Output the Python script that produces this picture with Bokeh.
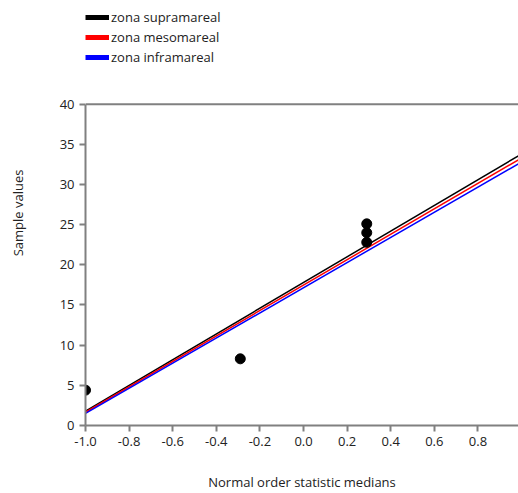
from bokeh.plotting import figure
from bokeh.models import Legend, LegendItem, Range1d, FixedTicker, Span
from bokeh.embed import file_html
from bokeh.resources import INLINE

# data
pts_x = [-1.0, -0.29, 0.29, 0.29, 0.29]
pts_y = [4.4, 8.3, 25.1, 24.0, 22.8]
line_x = [-1.0, 1.0]
supra_y = [1.8, 33.8]
meso_y = [1.65, 33.3]
infra_y = [1.5, 32.8]
labels = ["zona supramareal", "zona mesomareal", "zona inframareal"]
colors = ["black", "red", "blue"]
xticks = [-1.0, -0.8, -0.6, -0.4, -0.2, 0.0, 0.2, 0.4, 0.6, 0.8]
yticks = [0, 5, 10, 15, 20, 25, 30, 35, 40]
y_max = 40

FONT = "Open Sans"
# frame extends to top of page so legend (drawn in frame) is not clipped;
# plot area proper is 0..40
p = figure(width=518, height=493, output_backend="svg", toolbar_location=None,
           x_range=Range1d(-1.0, 0.986), y_range=Range1d(0, 52.9))
p.min_border_left = 85
p.min_border_right = 0
p.min_border_top = 0
p.min_border_bottom = 63
p.grid.visible = False
p.outline_line_color = None
p.background_fill_color = "white"
p.border_fill_color = "white"

p.add_layout(Span(location=y_max, dimension="width", line_color="#808080", line_width=2))

rs = []
for ys, c in zip([supra_y, meso_y, infra_y], colors):
    rs.append(p.line(line_x, ys, line_color=c, line_width=1.5))
p.scatter(pts_x, pts_y, size=10, color="black")

# thick legend swatches (no visible data)
nan = float("nan")
leg_rs = [p.line([nan, nan], [nan, nan], line_color=c, line_width=5) for c in colors]

for ax in (p.xaxis[0], p.yaxis[0]):
    ax.axis_line_color = "#808080"
    ax.axis_line_width = 2
    ax.major_tick_line_color = "#808080"
    ax.major_tick_line_width = 2
    ax.major_tick_out = 6
    ax.major_tick_in = 0
    ax.minor_tick_line_color = None
    ax.major_label_text_font = FONT
    ax.major_label_text_font_size = "13px"
    ax.major_label_text_color = "#222222"
    ax.axis_label_text_font = FONT
    ax.axis_label_text_font_size = "13px"
    ax.axis_label_text_font_style = "normal"
    ax.axis_label_text_color = "#222222"

p.yaxis.bounds = (0, y_max)
p.xaxis.ticker = FixedTicker(ticks=xticks)
p.xaxis.major_label_overrides = {t: f"{t:.1f}" for t in xticks}
p.yaxis.ticker = FixedTicker(ticks=yticks)
p.xaxis.axis_label = "Normal order statistic medians"
p.yaxis.axis_label = "Sample values"
p.xaxis.axis_label_standoff = 24
p.yaxis.axis_label_standoff = 30

legend = Legend(items=[LegendItem(label=l, renderers=[r]) for l, r in zip(labels, leg_rs)],
                location=(0, 359), orientation="vertical")
legend.background_fill_alpha = 0
legend.border_line_color = None
legend.label_text_font = FONT
legend.label_text_font_size = "13px"
legend.label_text_color = "#222222"
legend.glyph_width = 24
legend.glyph_height = 16
legend.label_height = 16
legend.spacing = 2
legend.padding = 0
legend.margin = 0
legend.label_standoff = 2
p.add_layout(legend, "center")

open("out.html", "w").write(file_html(p, INLINE))
